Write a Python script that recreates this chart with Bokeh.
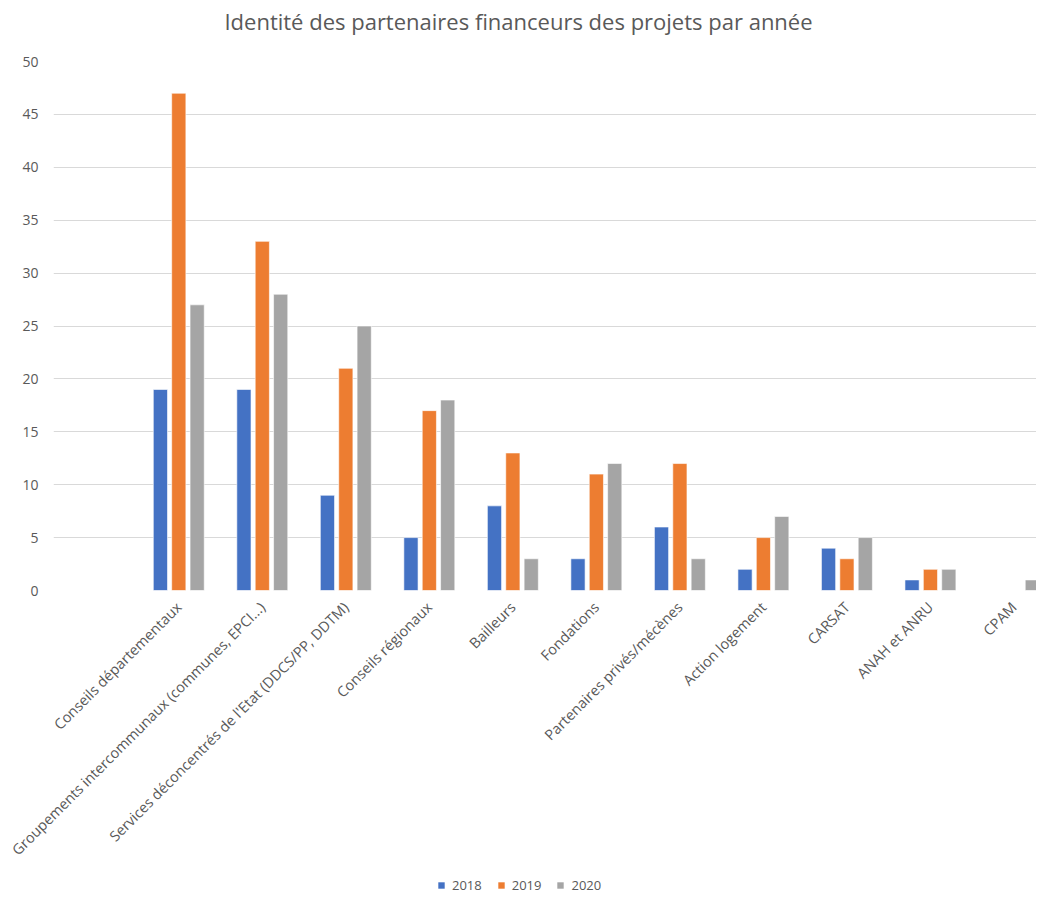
import numpy as np
from bokeh.plotting import figure
from bokeh.layouts import column
from bokeh.models import Range1d, FixedTicker, Legend, LegendItem, Label
from bokeh.embed import file_html
from bokeh.resources import INLINE

title_text = "Identité des partenaires financeurs des projets par année"
categories = [
    "Conseils départementaux",
    "Groupements intercommunaux (communes, EPCI...)",
    "Services déconcentrés de l'Etat (DDCS/PP, DDTM)",
    "Conseils régionaux",
    "Bailleurs",
    "Fondations",
    "Partenaires privés/mécènes",
    "Action logement",
    "CARSAT",
    "ANAH et ANRU",
    "CPAM",
]
years = ["2018", "2019", "2020"]
values_2018 = [19, 19, 9, 5, 8, 3, 6, 2, 4, 1, 0]
values_2019 = [47, 33, 21, 17, 13, 11, 12, 5, 3, 2, 0]
values_2020 = [27, 28, 25, 18, 3, 12, 3, 7, 5, 2, 1]
y_ticks = [0, 5, 10, 15, 20, 25, 30, 35, 40, 45, 50]

colors = ["#4472C4", "#ED7D31", "#A5A5A5"]
text_color = "#595959"
FONT = "Open Sans"
W = 1036
FRAME_LEFT = 53

positions = np.arange(1, len(categories) + 1)
offsets = [-0.22, 0.0, 0.22]
series = [values_2018, values_2019, values_2020]


def bare_figure(h, xr=(0, 1), yr=(0, 1)):
    f = figure(width=W, height=h, output_backend="svg", toolbar_location=None,
               x_axis_type=None, y_axis_type=None, title=None,
               min_border_left=FRAME_LEFT, min_border_right=0, min_border_top=0,
               min_border_bottom=0, x_range=Range1d(*xr), y_range=Range1d(*yr))
    f.outline_line_color = None
    f.xgrid.grid_line_color = None
    f.ygrid.grid_line_color = None
    return f


# ---- header with title (frame-relative screen coords) ----
header = bare_figure(50)
header.add_layout(Label(x=518 - FRAME_LEFT, y=30, x_units="screen", y_units="screen",
                        text=title_text, text_align="center",
                        text_baseline="middle", text_font=FONT,
                        text_font_size="22px", text_color=text_color))

# ---- main chart ----
p = figure(width=W, height=819, output_backend="svg", toolbar_location=None,
           title=None, x_range=Range1d(-0.5, 11.27), y_range=Range1d(0, 50),
           min_border_left=FRAME_LEFT, min_border_right=0, min_border_top=11,
           min_border_bottom=279)
p.outline_line_color = None

for vals, off, col in zip(series, offsets, colors):
    p.vbar(x=positions + off, top=vals, bottom=0, width=0.17,
           fill_color=col, line_color="white", line_width=0.6)

p.xgrid.grid_line_color = None
p.ygrid.grid_line_color = "#D9D9D9"
p.ygrid.grid_line_width = 1
p.ygrid.ticker = FixedTicker(ticks=y_ticks)

p.yaxis.ticker = FixedTicker(ticks=y_ticks)
p.yaxis.axis_line_color = None
p.yaxis.major_tick_line_color = None
p.yaxis.minor_tick_line_color = None
p.yaxis.major_tick_out = 0
p.yaxis.major_label_standoff = 15
p.yaxis.major_label_text_font = FONT
p.yaxis.major_label_text_font_size = "14px"
p.yaxis.major_label_text_color = text_color

p.xaxis.ticker = FixedTicker(ticks=list(positions))
p.xaxis.major_label_overrides = {int(i): c for i, c in zip(positions, categories)}
p.xaxis.major_label_orientation = np.pi / 4
p.xaxis.axis_line_color = None
p.xaxis.major_tick_line_color = None
p.xaxis.minor_tick_line_color = None
p.xaxis.major_tick_out = 0
p.xaxis.major_label_standoff = 14
p.xaxis.major_label_text_font = FONT
p.xaxis.major_label_text_font_size = "14.5px"
p.xaxis.major_label_text_color = text_color

# ---- legend strip: same series placed outside the strip's visible ranges ----
lf = bare_figure(26, xr=(-101, -100), yr=(-1001, -1000))
items = []
for yr, vals, off, col in zip(years, series, offsets, colors):
    r = lf.vbar(x=positions + off, top=vals, bottom=0, width=0.0,
                fill_color=col, line_color=None)
    items.append(LegendItem(label=yr, renderers=[r]))
legend = Legend(items=items, orientation="horizontal",
                location=(437 - FRAME_LEFT, 1),
                glyph_width=8, glyph_height=8, label_standoff=7, spacing=15,
                label_height=14, padding=0, margin=0, border_line_color=None,
                background_fill_alpha=0, label_text_font=FONT,
                label_text_font_size="13px", label_text_color=text_color)
lf.add_layout(legend)

layout = column(header, p, lf, spacing=0)
open("out.html", "w").write(file_html(layout, INLINE))
